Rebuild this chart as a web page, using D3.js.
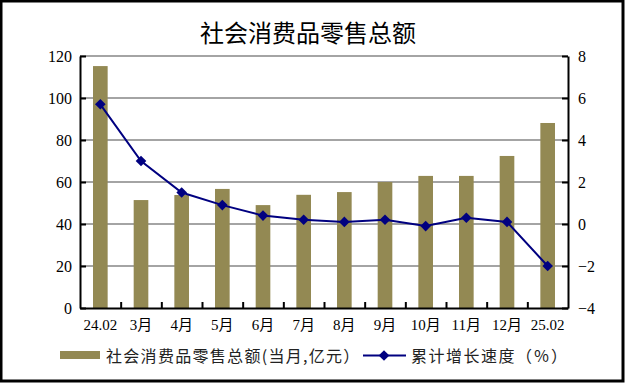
<!DOCTYPE html>
<html>
<head>
<meta charset="utf-8">
<script src="https://cdn.jsdelivr.net/npm/d3@7"></script>
<style>
  body { margin: 0; background: #fff; }
  svg { display: block; }
</style>
</head>
<body>
<script>
// data
var categories = ["24.02", "3月", "4月", "5月", "6月", "7月", "8月", "9月", "10月", "11月", "12月", "25.02"];
var sales = [115.2, 51.4, 53.8, 56.7, 49.0, 53.9, 55.2, 60.0, 62.9, 62.9, 72.4, 88.1];   // 亿元
var growth = [5.7, 3.0, 1.5, 0.9, 0.4, 0.2, 0.1, 0.2, -0.1, 0.3, 0.1, -2.0];          // %
var leftTicks = [0, 20, 40, 60, 80, 100, 120];
var rightTicks = [-4, -2, 0, 2, 4, 6, 8];

var W = 626, H = 384;
var plot = {left: 80, right: 568, top: 56, bottom: 308};

var svg = d3.select("body").append("svg")
    .attr("width", W)
    .attr("height", H);

// outer frame
svg.append("rect")
    .attr("x", 0).attr("y", 0)
    .attr("width", W).attr("height", H)
    .attr("fill", "#fff");
svg.append("rect")
    .attr("x", 1).attr("y", 1)
    .attr("width", W - 4).attr("height", H - 4)
    .attr("fill", "none")
    .attr("stroke", "#000")
    .attr("stroke-width", 3);

// scales
var x = d3.scaleBand()
    .domain(categories)
    .range([plot.left, plot.right])
    .paddingInner(0.64)
    .paddingOuter(0.32);
var xIdx = d3.scaleLinear().domain([0, categories.length]).range([plot.left, plot.right]);
var y0 = d3.scaleLinear().domain([0, 120]).range([plot.bottom, plot.top]);
var y1 = d3.scaleLinear().domain([-4, 8]).range([plot.bottom, plot.top]);

function cx(d) { return x(d) + x.bandwidth() / 2; }

// title
svg.append("text")
    .attr("x", 308)
    .attr("y", 31)
    .attr("text-anchor", "middle")
    .attr("dominant-baseline", "central")
    .style("font-family", "'Noto Sans CJK SC', sans-serif")
    .style("font-size", "24px")
    .style("fill", "#000")
    .text("社会消费品零售总额");

// gridlines
svg.append("g")
    .selectAll("line")
    .data(leftTicks.slice(1))
    .enter().append("line")
    .attr("x1", plot.left)
    .attr("x2", plot.right)
    .attr("y1", function(d) { return y0(d); })
    .attr("y2", function(d) { return y0(d); })
    .attr("stroke", "#868686")
    .attr("stroke-width", 1.5);

// bars
svg.append("g")
    .selectAll("rect")
    .data(sales)
    .enter().append("rect")
    .attr("x", function(d, i) { return x(categories[i]); })
    .attr("width", x.bandwidth())
    .attr("y", function(d) { return y0(d); })
    .attr("height", function(d) { return y0(0) - y0(d); })
    .attr("fill", "#938953");

// growth line
var line = d3.line()
    .x(function(d, i) { return cx(categories[i]); })
    .y(function(d) { return y1(d); });

svg.append("path")
    .datum(growth)
    .attr("d", line)
    .attr("fill", "none")
    .attr("stroke", "#000080")
    .attr("stroke-width", 2);

var diamond = d3.symbol().type(d3.symbolDiamond2).size(72);
svg.append("g")
    .selectAll("path")
    .data(growth)
    .enter().append("path")
    .attr("d", diamond)
    .attr("transform", function(d, i) {
        return "translate(" + cx(categories[i]) + "," + y1(d) + ")";
    })
    .attr("fill", "#000080");

// left axis
var gl = svg.append("g")
    .attr("transform", "translate(" + plot.left + ",0)")
    .call(d3.axisLeft(y0).tickValues(leftTicks).tickSizeInner(-6).tickSizeOuter(0).tickPadding(8));

// right axis
var gr = svg.append("g")
    .attr("transform", "translate(" + plot.right + ",0)")
    .call(d3.axisRight(y1).tickValues(rightTicks).tickSizeInner(-6).tickSizeOuter(0).tickPadding(10));

// bottom axis: ticks at band boundaries, labels at band centres
var gb = svg.append("g")
    .attr("transform", "translate(0," + plot.bottom + ")")
    .call(d3.axisTop(xIdx).tickValues(d3.range(1, categories.length)).tickSizeInner(6).tickSizeOuter(0).tickFormat(""));

var gx = svg.append("g")
    .attr("transform", "translate(0," + plot.bottom + ")")
    .call(d3.axisBottom(x).tickSize(0).tickPadding(11));
gx.select(".domain").remove();

[gl, gr, gb].forEach(function(g) {
    g.selectAll(".domain").attr("stroke", "#000").attr("stroke-width", 2);
    g.selectAll(".tick line").attr("stroke", "#000").attr("stroke-width", 2);
});
[gl, gr, gx].forEach(function(g) {
    g.selectAll("text")
        .style("font-family", "'Liberation Serif', 'Noto Sans CJK SC', serif")
        .style("font-size", "16px")
        .attr("fill", "#000");
});
gx.selectAll("text").style("font-size", "15px");

// legend
var lg = svg.append("g");
lg.append("rect")
    .attr("x", 60).attr("y", 351)
    .attr("width", 40).attr("height", 8)
    .attr("fill", "#938953");
lg.append("text")
    .attr("x", 106).attr("y", 355)
    .attr("dominant-baseline", "central")
    .style("font-family", "'Noto Sans CJK SC', sans-serif")
    .style("font-size", "16px")
    .style("letter-spacing", "1.3px")
    .style("fill", "#222")
    .text("社会消费品零售总额(当月,亿元）");
lg.append("line")
    .attr("x1", 363).attr("x2", 406)
    .attr("y1", 355.5).attr("y2", 355.5)
    .attr("stroke", "#000080")
    .attr("stroke-width", 2);
lg.append("path")
    .attr("d", diamond)
    .attr("transform", "translate(384,355.5)")
    .attr("fill", "#000080");
lg.append("text")
    .attr("x", 411).attr("y", 355)
    .attr("dominant-baseline", "central")
    .style("font-family", "'Noto Sans CJK SC', sans-serif")
    .style("font-size", "16px")
    .style("letter-spacing", "1.5px")
    .style("fill", "#222")
    .text("累计增长速度（％）");
</script>
</body>
</html>
